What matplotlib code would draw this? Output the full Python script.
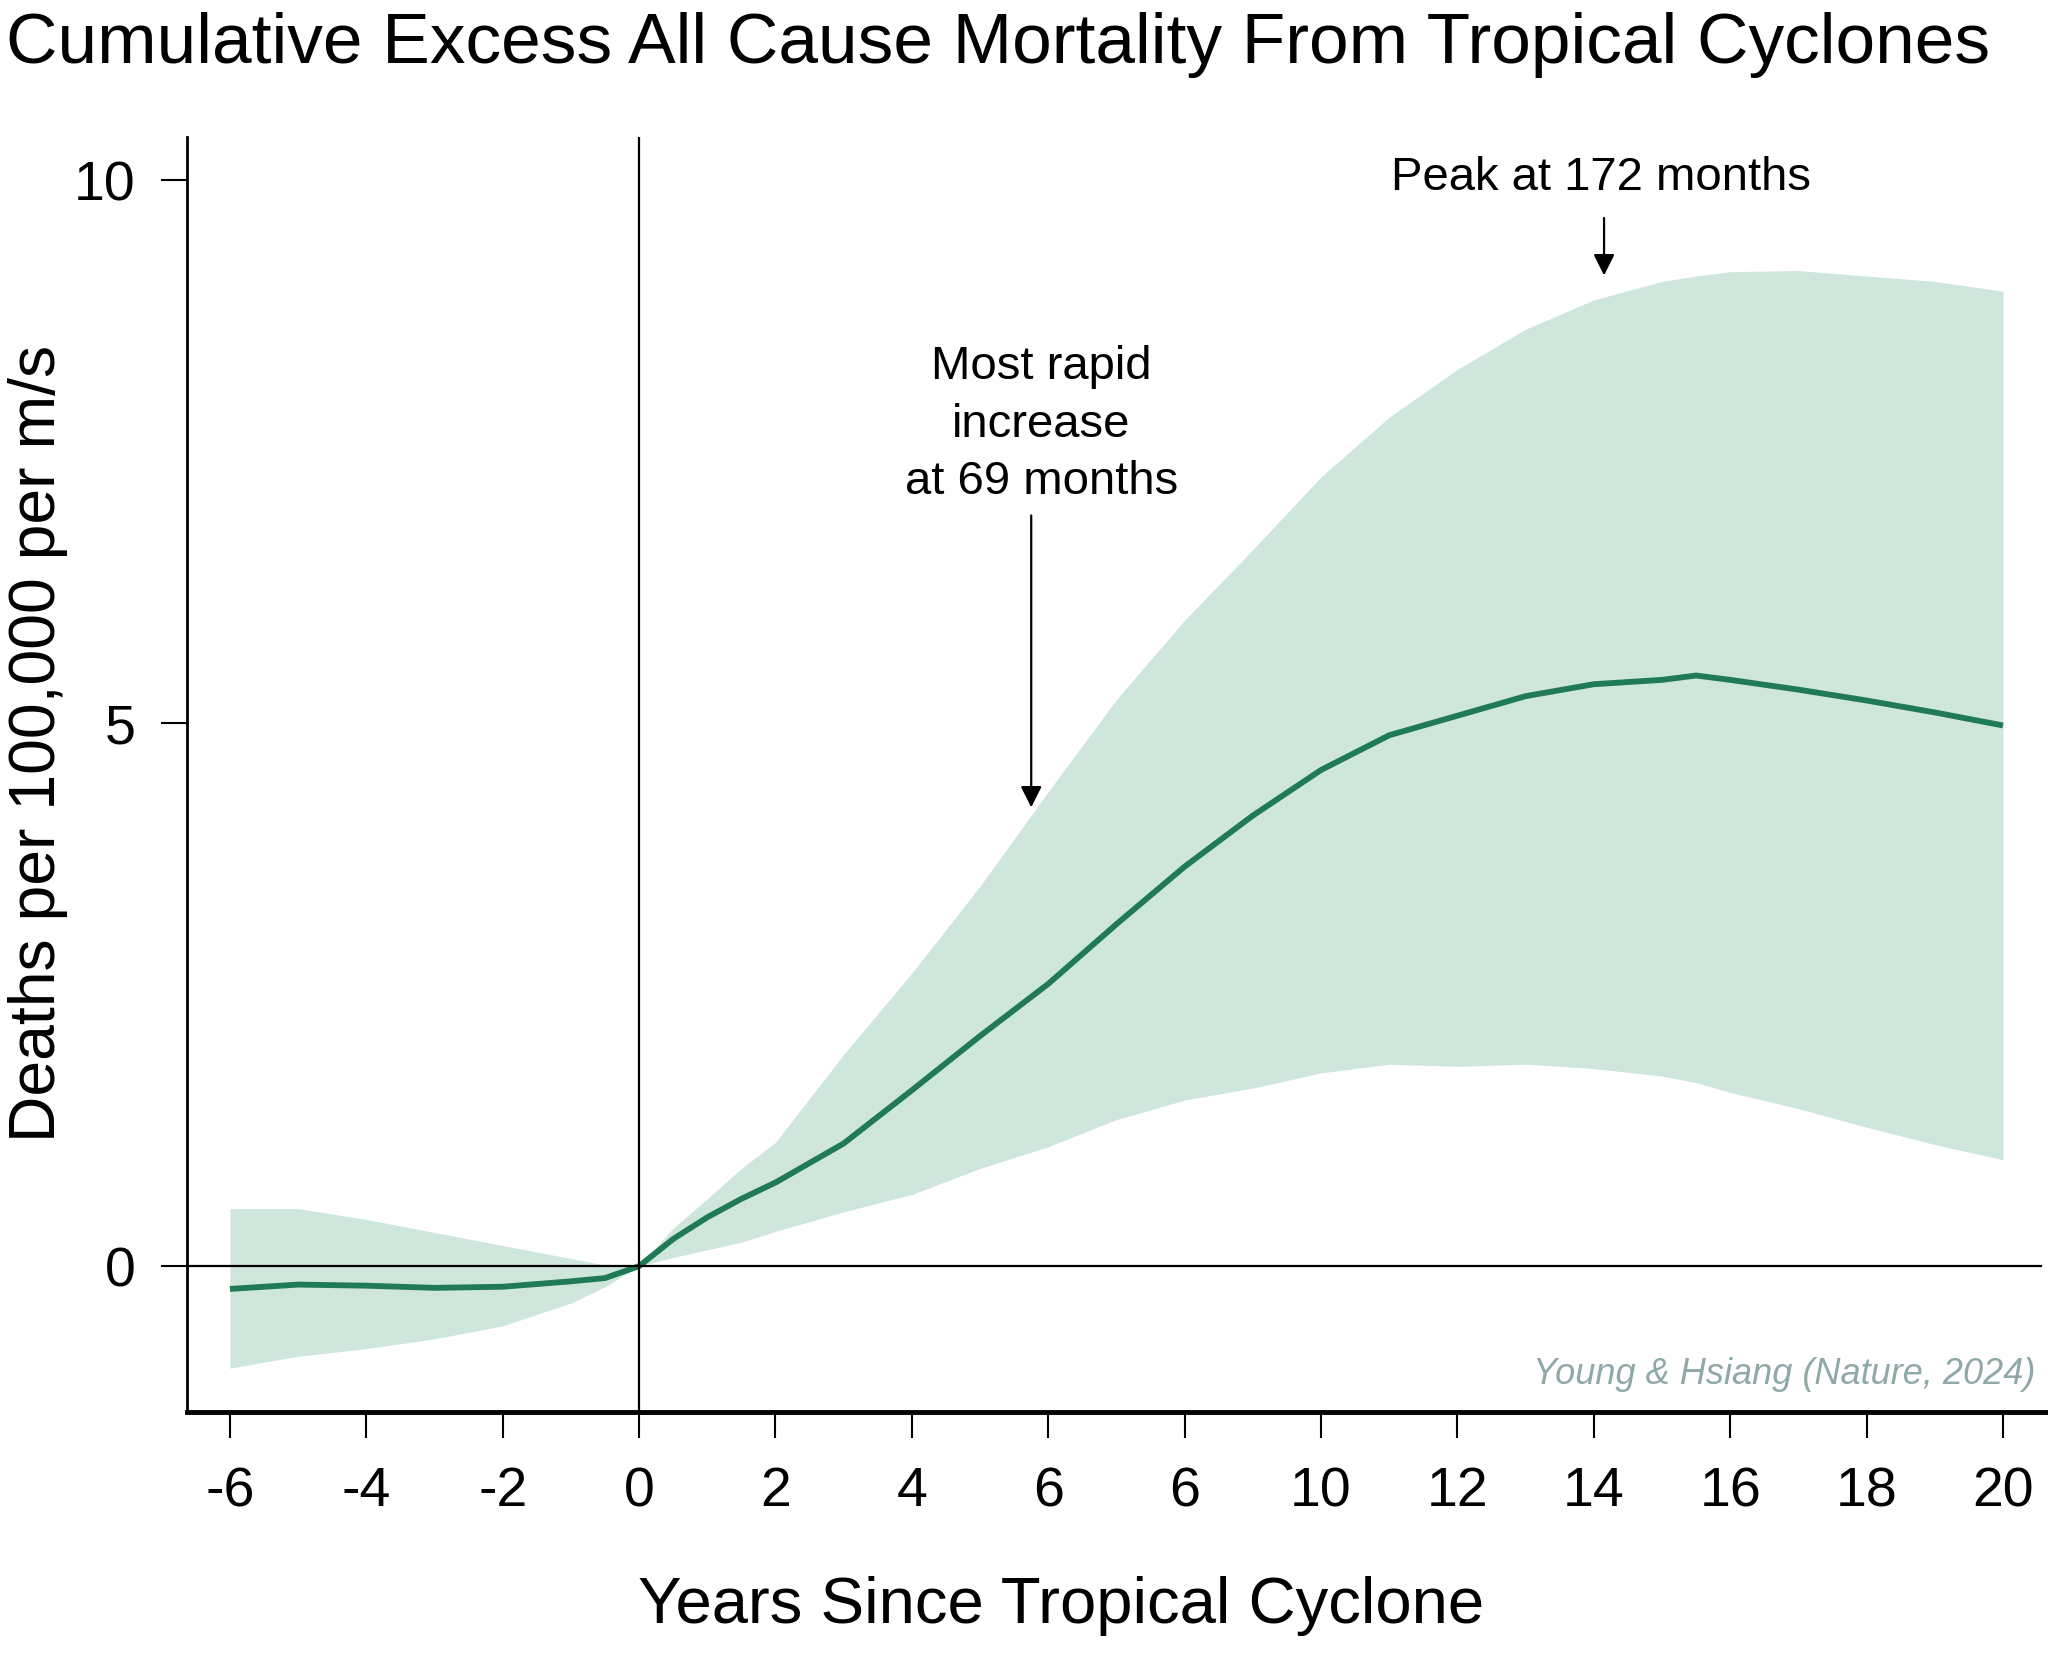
#!/usr/bin/env python3
"""Cumulative excess all-cause mortality after tropical cyclones (Young & Hsiang 2024)."""

import matplotlib

matplotlib.use("Agg")
import matplotlib.pyplot as plt

plt.rcParams["font.family"] = ["Liberation Sans", "DejaVu Sans"]

# values
years = [-6, -5, -4, -3, -2, -1, -0.5, 0, 0.5, 1, 1.5, 2, 3, 4, 5, 6, 7, 8, 9,
         10, 11, 12, 13, 14, 15, 15.5, 16, 17, 18, 19, 20]
mean_deaths = [-0.21, -0.17, -0.18, -0.20, -0.19, -0.14, -0.11, 0.0, 0.25, 0.45, 0.62,
               0.77, 1.13, 1.62, 2.12, 2.60, 3.15, 3.68, 4.15, 4.57, 4.89, 5.07,
               5.25, 5.36, 5.40, 5.44, 5.40, 5.31, 5.21, 5.10, 4.98]
upper_ci = [0.53, 0.53, 0.43, 0.31, 0.19, 0.07, 0.01, 0.0, 0.35, 0.62, 0.90,
            1.14, 1.95, 2.70, 3.50, 4.37, 5.22, 5.95, 6.60, 7.27, 7.82, 8.26,
            8.63, 8.90, 9.07, 9.12, 9.16, 9.17, 9.12, 9.07, 8.98]
lower_ci = [-0.94, -0.83, -0.76, -0.67, -0.55, -0.34, -0.19, 0.0, 0.08, 0.15, 0.22,
            0.32, 0.50, 0.66, 0.90, 1.10, 1.35, 1.53, 1.64, 1.78, 1.86, 1.84,
            1.86, 1.82, 1.75, 1.69, 1.60, 1.45, 1.28, 1.12, 0.98]

x_ticks = [-6, -4, -2, 0, 2, 4, 6, 8, 10, 12, 14, 16, 18, 20]
x_tick_labels = ["-6", "-4", "-2", "0", "2", "4", "6", "6", "10", "12", "14", "16", "18", "20"]
y_ticks = [0, 5, 10]

rapid_month = 69
peak_month = 172

band_color = "#cfe6dc"
line_color = "#1f7a55"

fig = plt.figure(figsize=(20.48, 16.55), dpi=100)
ax = fig.add_axes([0.0913, 0.1468, 0.9087, 0.7704])

ax.fill_between(years, lower_ci, upper_ci, color=band_color, lw=0)
ax.plot(years, mean_deaths, color=line_color, lw=4.2, solid_capstyle="butt",
        solid_joinstyle="round")
ax.axhline(0, color="black", lw=1.6, xmax=0.996)
ax.axvline(0, color="black", lw=1.6)

ax.set_xlim(-6.63, 20.66)
ax.set_ylim(-1.344, 10.4)

for side in ("top", "right"):
    ax.spines[side].set_visible(False)
ax.spines["left"].set_linewidth(2)
ax.spines["bottom"].set_linewidth(3.5)

ax.set_xticks(x_ticks)
ax.set_xticklabels(x_tick_labels)
ax.set_yticks(y_ticks)
ax.tick_params(axis="both", direction="out", length=19, width=1.5, labelsize=40)
ax.tick_params(axis="x", pad=20)
ax.tick_params(axis="y", pad=18)

# annotations
rapid_x = rapid_month / 12
ax.annotate("", xy=(rapid_x, 4.2), xytext=(rapid_x, 6.94),
            arrowprops=dict(arrowstyle="-|>", color="black", lw=1.6, mutation_scale=32))
ax.text(5.9, 7.75, "Most rapid\nincrease\nat 69 months", ha="center", va="center",
        fontsize=34, linespacing=1.4)

peak_x = 14.15
ax.annotate("", xy=(peak_x, 9.1), xytext=(peak_x, 9.68),
            arrowprops=dict(arrowstyle="-|>", color="black", lw=1.6, mutation_scale=32))
ax.text(14.1, 10.02, f"Peak at {peak_month} months", ha="center", va="center", fontsize=34)

fig.text(0.9937, 0.1692, "Young & Hsiang (Nature, 2024)", ha="right", va="center",
         style="italic", fontsize=26, color="#8fa8a8")

fig.text(0.003, 0.962, "Cumulative Excess All Cause Mortality From Tropical Cyclones",
         ha="left", va="baseline", fontsize=51.3)
fig.text(0.518, 0.0193, "Years Since Tropical Cyclone", ha="center", va="baseline", fontsize=47)
fig.text(0.0185, 0.5505, "Deaths per 100,000 per m/s", ha="center", va="center",
         rotation=90, fontsize=46.3)

fig.savefig("out.png", dpi=100)
